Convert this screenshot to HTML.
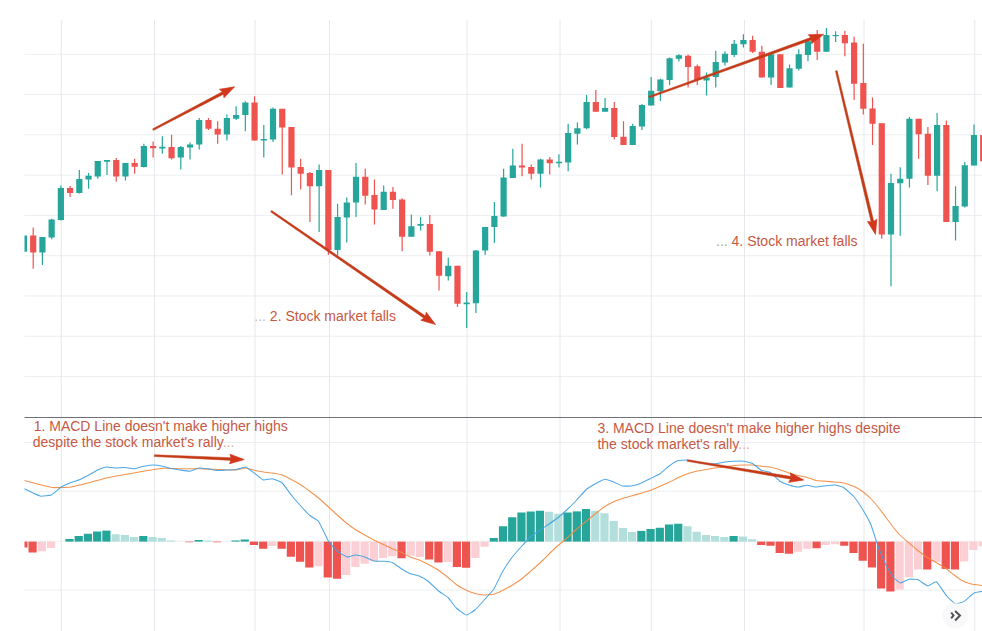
<!DOCTYPE html>
<html><head><meta charset="utf-8"><title>MACD divergence chart</title>
<style>html,body{margin:0;padding:0;background:#fff;}body{width:982px;height:631px;overflow:hidden;font-family:"Liberation Sans",sans-serif;}svg{display:block}</style>
</head><body>
<svg width="982" height="631" viewBox="0 0 982 631">
<rect width="982" height="631" fill="#fff"/>
<g stroke="#eceef1" stroke-width="1" fill="none">
<path d="M24.5 54.25H982"/>
<path d="M24.5 94.54H982"/>
<path d="M24.5 134.83H982"/>
<path d="M24.5 175.12H982"/>
<path d="M24.5 215.41H982"/>
<path d="M24.5 255.70H982"/>
<path d="M24.5 295.99H982"/>
<path d="M24.5 336.28H982"/>
<path d="M24.5 376.57H982"/>
<path d="M24.5 442.50H982"/>
<path d="M24.5 491.25H982"/>
<path d="M24.5 541.25H982"/>
<path d="M24.5 590.00H982"/>
</g><g stroke="#e6e8ec" stroke-width="1" fill="none">
<path d="M61.25 20V631"/>
<path d="M154.5 20V631"/>
<path d="M255 20V631"/>
<path d="M329.5 20V631"/>
<path d="M467 20V631"/>
<path d="M560 20V631"/>
<path d="M651.25 20V631"/>
<path d="M744.5 20V631"/>
<path d="M864 20V631"/>
<path d="M974.75 20V631"/>
</g>
<path d="M24.5 417.5H982" stroke="#5f6168" stroke-width="0.9"/>
<g>
<rect x="24.50" y="541.60" width="2.98" height="5.90" fill="#ef5350"/>
<rect x="28.50" y="541.60" width="8.20" height="10.90" fill="#ef5350"/>
<rect x="37.72" y="541.60" width="8.20" height="9.65" fill="#fbcfd3"/>
<rect x="46.95" y="541.60" width="8.20" height="6.40" fill="#fbcfd3"/>
<rect x="65.39" y="539.00" width="8.20" height="2.60" fill="#26a69a"/>
<rect x="74.62" y="536.00" width="8.20" height="5.60" fill="#26a69a"/>
<rect x="83.84" y="533.75" width="8.20" height="7.85" fill="#26a69a"/>
<rect x="93.06" y="531.50" width="8.20" height="10.10" fill="#26a69a"/>
<rect x="102.29" y="530.60" width="8.20" height="11.00" fill="#26a69a"/>
<rect x="111.51" y="534.25" width="8.20" height="7.35" fill="#b2dfdb"/>
<rect x="120.74" y="535.00" width="8.20" height="6.60" fill="#b2dfdb"/>
<rect x="129.96" y="537.00" width="8.20" height="4.60" fill="#b2dfdb"/>
<rect x="139.18" y="536.00" width="8.20" height="5.60" fill="#26a69a"/>
<rect x="148.41" y="537.00" width="8.20" height="4.60" fill="#b2dfdb"/>
<rect x="157.63" y="538.00" width="8.20" height="3.60" fill="#b2dfdb"/>
<rect x="166.85" y="540.60" width="8.20" height="1.00" fill="#b2dfdb"/>
<rect x="185.30" y="541.60" width="8.20" height="0.65" fill="#ef5350"/>
<rect x="194.52" y="540.00" width="8.20" height="1.60" fill="#26a69a"/>
<rect x="203.75" y="540.50" width="8.20" height="1.10" fill="#b2dfdb"/>
<rect x="212.97" y="541.60" width="8.20" height="0.65" fill="#ef5350"/>
<rect x="231.42" y="540.50" width="8.20" height="1.10" fill="#26a69a"/>
<rect x="240.64" y="539.50" width="8.20" height="2.10" fill="#26a69a"/>
<rect x="249.86" y="541.60" width="8.20" height="3.40" fill="#ef5350"/>
<rect x="259.09" y="541.60" width="8.20" height="7.15" fill="#ef5350"/>
<rect x="268.31" y="541.60" width="8.20" height="4.40" fill="#fbcfd3"/>
<rect x="277.53" y="541.60" width="8.20" height="7.15" fill="#ef5350"/>
<rect x="286.76" y="541.60" width="8.20" height="15.15" fill="#ef5350"/>
<rect x="295.98" y="541.60" width="8.20" height="20.15" fill="#ef5350"/>
<rect x="305.20" y="541.60" width="8.20" height="25.90" fill="#ef5350"/>
<rect x="314.43" y="541.60" width="8.20" height="24.65" fill="#fbcfd3"/>
<rect x="323.65" y="541.60" width="8.20" height="35.90" fill="#ef5350"/>
<rect x="332.88" y="541.60" width="8.20" height="37.15" fill="#ef5350"/>
<rect x="342.10" y="541.60" width="8.20" height="33.40" fill="#fbcfd3"/>
<rect x="351.32" y="541.60" width="8.20" height="25.40" fill="#fbcfd3"/>
<rect x="360.55" y="541.60" width="8.20" height="22.15" fill="#fbcfd3"/>
<rect x="369.77" y="541.60" width="8.20" height="19.65" fill="#fbcfd3"/>
<rect x="378.99" y="541.60" width="8.20" height="16.40" fill="#fbcfd3"/>
<rect x="388.22" y="541.60" width="8.20" height="14.65" fill="#fbcfd3"/>
<rect x="397.44" y="541.60" width="8.20" height="16.65" fill="#ef5350"/>
<rect x="406.66" y="541.60" width="8.20" height="14.15" fill="#fbcfd3"/>
<rect x="415.89" y="541.60" width="8.20" height="15.40" fill="#fbcfd3"/>
<rect x="425.11" y="541.60" width="8.20" height="17.90" fill="#ef5350"/>
<rect x="434.33" y="541.60" width="8.20" height="20.90" fill="#ef5350"/>
<rect x="443.56" y="541.60" width="8.20" height="20.40" fill="#fbcfd3"/>
<rect x="452.78" y="541.60" width="8.20" height="25.40" fill="#ef5350"/>
<rect x="462.00" y="541.60" width="8.20" height="26.15" fill="#ef5350"/>
<rect x="471.23" y="541.60" width="8.20" height="16.40" fill="#fbcfd3"/>
<rect x="480.45" y="541.60" width="8.20" height="5.15" fill="#fbcfd3"/>
<rect x="489.67" y="538.00" width="8.20" height="3.60" fill="#26a69a"/>
<rect x="498.90" y="526.25" width="8.20" height="15.35" fill="#26a69a"/>
<rect x="508.12" y="517.25" width="8.20" height="24.35" fill="#26a69a"/>
<rect x="517.35" y="512.50" width="8.20" height="29.10" fill="#26a69a"/>
<rect x="526.57" y="511.50" width="8.20" height="30.10" fill="#26a69a"/>
<rect x="535.79" y="510.75" width="8.20" height="30.85" fill="#26a69a"/>
<rect x="545.02" y="511.75" width="8.20" height="29.85" fill="#b2dfdb"/>
<rect x="554.24" y="513.75" width="8.20" height="27.85" fill="#b2dfdb"/>
<rect x="563.46" y="512.50" width="8.20" height="29.10" fill="#26a69a"/>
<rect x="572.69" y="511.40" width="8.20" height="30.20" fill="#26a69a"/>
<rect x="581.91" y="509.00" width="8.20" height="32.60" fill="#26a69a"/>
<rect x="591.13" y="510.75" width="8.20" height="30.85" fill="#b2dfdb"/>
<rect x="600.36" y="513.25" width="8.20" height="28.35" fill="#b2dfdb"/>
<rect x="609.58" y="520.90" width="8.20" height="20.70" fill="#b2dfdb"/>
<rect x="618.80" y="528.00" width="8.20" height="13.60" fill="#b2dfdb"/>
<rect x="628.03" y="532.00" width="8.20" height="9.60" fill="#b2dfdb"/>
<rect x="637.25" y="530.90" width="8.20" height="10.70" fill="#26a69a"/>
<rect x="646.47" y="529.00" width="8.20" height="12.60" fill="#26a69a"/>
<rect x="655.70" y="527.75" width="8.20" height="13.85" fill="#26a69a"/>
<rect x="664.92" y="524.50" width="8.20" height="17.10" fill="#26a69a"/>
<rect x="674.14" y="523.75" width="8.20" height="17.85" fill="#26a69a"/>
<rect x="683.37" y="526.25" width="8.20" height="15.35" fill="#b2dfdb"/>
<rect x="692.59" y="531.75" width="8.20" height="9.85" fill="#b2dfdb"/>
<rect x="701.82" y="535.00" width="8.20" height="6.60" fill="#b2dfdb"/>
<rect x="711.04" y="536.00" width="8.20" height="5.60" fill="#b2dfdb"/>
<rect x="720.26" y="537.00" width="8.20" height="4.60" fill="#b2dfdb"/>
<rect x="729.49" y="536.00" width="8.20" height="5.60" fill="#26a69a"/>
<rect x="738.71" y="536.50" width="8.20" height="5.10" fill="#b2dfdb"/>
<rect x="747.93" y="539.25" width="8.20" height="2.35" fill="#b2dfdb"/>
<rect x="757.16" y="541.60" width="8.20" height="3.40" fill="#ef5350"/>
<rect x="766.38" y="541.60" width="8.20" height="4.15" fill="#ef5350"/>
<rect x="775.60" y="541.60" width="8.20" height="11.40" fill="#ef5350"/>
<rect x="784.83" y="541.60" width="8.20" height="12.15" fill="#ef5350"/>
<rect x="794.05" y="541.60" width="8.20" height="10.15" fill="#fbcfd3"/>
<rect x="803.27" y="541.60" width="8.20" height="7.15" fill="#fbcfd3"/>
<rect x="812.50" y="541.60" width="8.20" height="6.65" fill="#ef5350"/>
<rect x="821.72" y="541.60" width="8.20" height="3.40" fill="#fbcfd3"/>
<rect x="830.94" y="541.60" width="8.20" height="2.65" fill="#fbcfd3"/>
<rect x="840.17" y="541.60" width="8.20" height="4.15" fill="#ef5350"/>
<rect x="849.39" y="541.60" width="8.20" height="11.40" fill="#ef5350"/>
<rect x="858.62" y="541.60" width="8.20" height="19.15" fill="#ef5350"/>
<rect x="867.84" y="541.60" width="8.20" height="25.90" fill="#ef5350"/>
<rect x="877.06" y="541.60" width="8.20" height="46.90" fill="#ef5350"/>
<rect x="886.29" y="541.60" width="8.20" height="49.90" fill="#ef5350"/>
<rect x="895.51" y="541.60" width="8.20" height="47.90" fill="#fbcfd3"/>
<rect x="904.73" y="541.60" width="8.20" height="35.65" fill="#fbcfd3"/>
<rect x="913.96" y="541.60" width="8.20" height="27.90" fill="#fbcfd3"/>
<rect x="923.18" y="541.60" width="8.20" height="27.90" fill="#ef5350"/>
<rect x="932.40" y="541.60" width="8.20" height="20.40" fill="#fbcfd3"/>
<rect x="941.63" y="541.60" width="8.20" height="27.30" fill="#ef5350"/>
<rect x="950.85" y="541.60" width="8.20" height="27.90" fill="#ef5350"/>
<rect x="960.07" y="541.60" width="8.20" height="19.90" fill="#fbcfd3"/>
<rect x="969.30" y="541.60" width="8.20" height="8.40" fill="#fbcfd3"/>
<rect x="978.52" y="541.60" width="8.20" height="4.65" fill="#fbcfd3"/>
</g>
<path d="M24.50 480.50C24.95 480.62 32.11 482.51 33.00 482.75C33.89 482.99 40.21 484.75 41.25 485.00C42.29 485.25 51.43 487.37 52.50 487.50C53.57 487.63 60.25 487.53 61.25 487.50C62.25 487.47 70.25 487.13 71.25 487.00C72.25 486.87 79.00 485.24 80.00 485.00C81.00 484.76 89.04 482.76 90.00 482.50C90.96 482.24 97.13 480.44 98.00 480.20C98.87 479.96 105.34 478.21 106.25 478.00C107.16 477.79 114.00 476.49 115.00 476.30C116.00 476.11 123.99 474.68 125.00 474.50C126.01 474.32 133.00 473.07 134.00 472.90C135.00 472.73 142.70 471.43 143.75 471.25C144.80 471.07 152.62 469.66 153.75 469.50C154.88 469.34 163.60 468.29 165.00 468.25C166.40 468.21 178.13 468.72 180.00 468.75C181.87 468.78 198.00 468.71 200.00 468.75C202.00 468.79 215.58 469.43 217.50 469.50C219.42 469.57 234.51 470.08 236.00 470.00C237.49 469.92 244.47 467.97 245.50 468.00C246.53 468.03 254.29 470.29 255.25 470.50C256.21 470.71 262.59 471.87 263.50 472.00C264.41 472.13 271.25 472.84 272.25 473.00C273.25 473.16 281.18 474.63 282.25 475.00C283.32 475.37 291.25 479.47 292.25 480.00C293.25 480.53 300.07 484.40 301.00 485.00C301.93 485.60 308.82 490.56 309.75 491.25C310.68 491.94 317.50 497.16 318.50 498.00C319.50 498.84 327.50 506.09 328.50 507.00C329.50 507.91 336.25 514.11 337.25 515.00C338.25 515.89 346.25 522.95 347.25 523.75C348.25 524.55 355.07 529.40 356.00 530.00C356.93 530.60 363.75 534.44 364.75 535.00C365.75 535.56 373.75 539.99 374.75 540.50C375.75 541.01 382.57 544.06 383.50 544.50C384.43 544.94 391.32 548.35 392.25 548.75C393.18 549.15 400.07 551.57 401.00 552.00C401.93 552.43 408.75 556.31 409.75 556.75C410.75 557.19 418.75 559.84 419.75 560.25C420.75 560.66 427.50 563.97 428.50 564.50C429.50 565.03 437.46 569.56 438.50 570.25C439.54 570.94 447.05 576.74 448.00 577.50C448.95 578.26 455.28 583.82 456.25 584.50C457.22 585.18 465.25 589.77 466.25 590.25C467.25 590.73 474.07 593.25 475.00 593.50C475.93 593.75 482.75 594.96 483.75 595.00C484.75 595.04 492.75 594.49 493.75 594.25C494.75 594.01 501.50 590.99 502.50 590.50C503.50 590.01 511.50 585.60 512.50 585.00C513.50 584.40 520.32 579.96 521.25 579.25C522.18 578.54 529.00 572.62 530.00 571.75C531.00 570.88 539.00 563.93 540.00 563.00C541.00 562.07 547.82 555.16 548.75 554.25C549.68 553.34 556.50 546.89 557.50 546.00C558.50 545.11 566.50 538.38 567.50 537.50C568.50 536.62 575.25 530.37 576.25 529.50C577.25 528.63 585.25 522.08 586.25 521.25C587.25 520.42 594.00 514.79 595.00 514.00C596.00 513.21 604.00 507.15 605.00 506.50C606.00 505.85 612.82 502.18 613.75 501.75C614.68 501.32 621.57 498.81 622.50 498.50C623.43 498.19 630.26 496.28 631.25 496.00C632.24 495.72 640.00 493.54 641.00 493.25C642.00 492.96 648.99 490.87 650.00 490.50C651.01 490.13 659.00 486.68 660.00 486.25C661.00 485.82 667.82 482.94 668.75 482.50C669.68 482.06 676.50 478.47 677.50 478.00C678.50 477.53 686.50 474.11 687.50 473.75C688.50 473.39 695.25 471.48 696.25 471.25C697.25 471.02 705.25 469.67 706.25 469.50C707.25 469.33 714.00 468.13 715.00 468.00C716.00 467.87 724.00 467.13 725.00 467.00C726.00 466.87 732.75 465.61 733.75 465.50C734.75 465.39 742.75 465.03 743.75 465.00C744.75 464.97 751.57 464.93 752.50 465.00C753.43 465.07 760.32 466.14 761.25 466.25C762.18 466.36 769.00 466.81 770.00 467.00C771.00 467.19 778.99 469.43 780.00 469.75C781.01 470.07 788.04 472.69 789.00 473.00C789.96 473.31 797.04 475.26 798.00 475.50C798.96 475.74 806.04 477.23 807.00 477.50C807.96 477.77 814.99 480.30 816.00 480.50C817.01 480.70 825.00 481.17 826.00 481.25C827.00 481.33 833.82 481.91 834.75 482.00C835.68 482.09 842.50 482.77 843.50 483.00C844.50 483.23 852.50 485.81 853.50 486.25C854.50 486.69 861.32 490.58 862.25 491.25C863.18 491.92 870.13 497.88 871.00 498.75C871.87 499.62 877.70 506.50 878.50 507.50C879.30 508.50 885.20 516.43 886.00 517.50C886.80 518.57 892.77 526.57 893.50 527.50C894.23 528.43 898.95 534.20 899.75 535.00C900.55 535.80 907.57 541.70 908.50 542.50C909.43 543.30 916.25 549.20 917.25 550.00C918.25 550.80 926.25 556.83 927.25 557.50C928.25 558.17 935.07 561.97 936.00 562.50C936.93 563.03 943.82 566.86 944.75 567.50C945.68 568.14 952.57 573.79 953.50 574.50C954.43 575.21 961.29 580.25 962.25 580.75C963.21 581.25 970.45 583.65 971.50 583.90C972.55 584.15 981.44 585.41 982.00 585.50" stroke="#f28a3f" stroke-width="1.05" stroke-opacity="0.92" fill="none" stroke-linejoin="round"/>
<path d="M24.50 488.75C24.95 488.98 32.11 492.60 33.00 493.00C33.89 493.40 40.28 496.14 41.25 496.25C42.22 496.36 50.18 495.49 51.25 495.00C52.32 494.51 60.25 487.64 61.25 487.00C62.25 486.36 69.00 483.40 70.00 483.00C71.00 482.60 79.00 479.93 80.00 479.50C81.00 479.07 87.75 475.53 88.75 475.00C89.75 474.47 97.82 469.93 98.75 469.50C99.68 469.07 105.38 467.08 106.25 467.00C107.12 466.92 114.00 467.97 115.00 468.00C116.00 468.03 124.00 467.46 125.00 467.50C126.00 467.54 132.75 468.82 133.75 468.75C134.75 468.68 142.68 466.45 143.75 466.25C144.82 466.05 152.75 465.00 153.75 465.00C154.75 465.00 161.50 466.05 162.50 466.25C163.50 466.45 171.57 468.55 172.50 468.75C173.43 468.95 179.07 469.87 180.00 470.00C180.93 470.13 189.00 471.36 190.00 471.25C191.00 471.14 197.82 468.13 198.75 468.00C199.68 467.87 206.50 468.62 207.50 468.75C208.50 468.88 216.50 470.43 217.50 470.50C218.50 470.57 225.26 470.05 226.25 470.00C227.24 469.95 234.97 469.66 236.00 469.50C237.03 469.34 244.47 466.77 245.50 467.00C246.53 467.23 254.29 473.06 255.25 473.75C256.21 474.44 262.59 479.73 263.50 480.00C264.41 480.27 271.25 478.59 272.25 478.75C273.25 478.91 281.18 482.07 282.25 483.00C283.32 483.93 291.25 495.01 292.25 496.25C293.25 497.49 300.07 505.22 301.00 506.25C301.93 507.28 308.82 514.70 309.75 515.50C310.68 516.30 317.50 519.88 318.50 521.25C319.50 522.62 327.50 539.65 328.50 541.25C329.50 542.85 336.25 550.41 337.25 551.25C338.25 552.09 346.25 556.80 347.25 557.00C348.25 557.20 355.07 555.00 356.00 555.00C356.93 555.00 363.75 556.67 364.75 557.00C365.75 557.33 373.75 561.02 374.75 561.25C375.75 561.48 382.57 561.18 383.50 561.25C384.43 561.32 391.32 562.11 392.25 562.50C393.18 562.89 400.07 567.91 401.00 568.50C401.93 569.09 408.75 573.09 409.75 573.50C410.75 573.91 418.75 575.82 419.75 576.25C420.75 576.68 427.50 580.71 428.50 581.50C429.50 582.29 437.46 590.15 438.50 591.00C439.54 591.85 447.05 596.59 448.00 597.50C448.95 598.41 455.28 607.07 456.25 608.00C457.22 608.93 465.25 614.89 466.25 615.00C467.25 615.11 474.07 610.77 475.00 610.00C475.93 609.23 482.75 601.61 483.75 600.50C484.75 599.39 492.75 590.78 493.75 589.25C494.75 587.72 501.50 573.48 502.50 571.75C503.50 570.02 511.50 558.08 512.50 556.75C513.50 555.42 520.32 547.78 521.25 546.75C522.18 545.72 529.00 538.39 530.00 537.50C531.00 536.61 539.00 530.71 540.00 530.00C541.00 529.29 547.82 524.89 548.75 524.25C549.68 523.61 556.50 518.80 557.50 518.00C558.50 517.20 566.50 510.18 567.50 509.25C568.50 508.32 575.25 501.55 576.25 500.50C577.25 499.45 585.25 490.38 586.25 489.50C587.25 488.62 594.00 484.55 595.00 484.00C596.00 483.45 604.00 479.36 605.00 479.25C606.00 479.14 612.82 481.64 613.75 482.00C614.68 482.36 621.57 485.79 622.50 486.00C623.43 486.21 630.26 486.15 631.25 486.00C632.24 485.85 640.00 483.64 641.00 483.25C642.00 482.86 648.99 479.26 650.00 478.75C651.01 478.24 659.00 474.42 660.00 473.75C661.00 473.08 667.82 466.94 668.75 466.25C669.68 465.56 676.50 461.08 677.50 460.75C678.50 460.42 686.50 459.93 687.50 460.00C688.50 460.07 695.25 461.80 696.25 462.00C697.25 462.20 705.25 463.66 706.25 463.75C707.25 463.84 714.00 463.84 715.00 463.75C716.00 463.66 724.00 462.13 725.00 462.00C726.00 461.87 732.75 461.29 733.75 461.25C734.75 461.21 742.75 461.13 743.75 461.25C744.75 461.37 751.57 463.02 752.50 463.50C753.43 463.98 760.29 469.77 761.25 470.25C762.21 470.73 769.50 471.91 770.50 472.50C771.50 473.09 779.01 480.58 780.00 481.25C780.99 481.92 788.04 484.69 789.00 485.00C789.96 485.31 797.04 486.99 798.00 487.00C798.96 487.01 806.04 485.25 807.00 485.25C807.96 485.25 814.99 486.97 816.00 487.00C817.01 487.03 825.00 485.86 826.00 485.75C827.00 485.64 833.82 484.91 834.75 485.00C835.68 485.09 842.50 486.90 843.50 487.50C844.50 488.10 852.50 495.12 853.50 496.25C854.50 497.38 861.32 507.22 862.25 508.75C863.18 510.28 870.13 522.93 871.00 525.00C871.87 527.07 877.70 545.37 878.50 547.50C879.30 549.63 885.20 563.40 886.00 565.00C886.80 566.60 892.73 576.54 893.50 577.50C894.27 578.46 899.67 582.91 900.50 583.00C901.33 583.09 908.08 579.44 909.00 579.25C909.92 579.06 916.75 579.14 917.75 579.50C918.75 579.86 926.75 585.88 927.75 586.00C928.75 586.12 935.50 581.23 936.50 581.75C937.50 582.27 945.50 594.56 946.50 595.75C947.50 596.94 954.32 603.70 955.25 604.00C956.18 604.30 963.00 601.99 964.00 601.40C965.00 600.81 973.04 593.53 974.00 593.00C974.96 592.47 981.57 591.49 982.00 591.40" stroke="#3f9fe4" stroke-width="1.05" stroke-opacity="0.92" fill="none" stroke-linejoin="round"/>
<g>
<rect x="24.50" y="235.50" width="2.58" height="16.25" fill="#26a69a"/>
<rect x="32.60" y="227.50" width="1.2" height="41.25" fill="#ef5350"/>
<rect x="30.10" y="235.50" width="6.20" height="17.00" fill="#ef5350"/>
<rect x="41.82" y="237.00" width="1.2" height="28.00" fill="#26a69a"/>
<rect x="39.32" y="237.00" width="6.20" height="15.50" fill="#26a69a"/>
<rect x="51.05" y="218.75" width="1.2" height="20.50" fill="#26a69a"/>
<rect x="48.55" y="219.50" width="6.20" height="18.00" fill="#26a69a"/>
<rect x="60.27" y="185.50" width="1.2" height="35.00" fill="#26a69a"/>
<rect x="57.77" y="188.00" width="6.20" height="32.00" fill="#26a69a"/>
<rect x="69.49" y="186.00" width="1.2" height="11.00" fill="#ef5350"/>
<rect x="66.99" y="188.00" width="6.20" height="5.00" fill="#ef5350"/>
<rect x="78.72" y="170.00" width="1.2" height="23.50" fill="#26a69a"/>
<rect x="76.22" y="179.00" width="6.20" height="14.00" fill="#26a69a"/>
<rect x="87.94" y="173.00" width="1.2" height="15.75" fill="#26a69a"/>
<rect x="85.44" y="175.75" width="6.20" height="3.75" fill="#26a69a"/>
<rect x="97.16" y="161.00" width="1.2" height="17.75" fill="#26a69a"/>
<rect x="94.66" y="161.00" width="6.20" height="15.50" fill="#26a69a"/>
<rect x="106.39" y="160.00" width="1.2" height="15.00" fill="#26a69a"/>
<rect x="103.89" y="160.00" width="6.20" height="1.75" fill="#26a69a"/>
<rect x="115.61" y="158.00" width="1.2" height="23.75" fill="#ef5350"/>
<rect x="113.11" y="160.00" width="6.20" height="16.50" fill="#ef5350"/>
<rect x="124.84" y="163.00" width="1.2" height="17.50" fill="#26a69a"/>
<rect x="122.34" y="163.00" width="6.20" height="13.50" fill="#26a69a"/>
<rect x="134.06" y="158.75" width="1.2" height="15.00" fill="#ef5350"/>
<rect x="131.56" y="163.00" width="6.20" height="3.75" fill="#ef5350"/>
<rect x="143.28" y="143.75" width="1.2" height="23.75" fill="#26a69a"/>
<rect x="140.78" y="146.00" width="6.20" height="21.00" fill="#26a69a"/>
<rect x="152.51" y="141.50" width="1.2" height="16.00" fill="#ef5350"/>
<rect x="150.01" y="146.00" width="6.20" height="2.25" fill="#ef5350"/>
<rect x="161.73" y="136.25" width="1.2" height="17.50" fill="#26a69a"/>
<rect x="159.23" y="146.75" width="6.20" height="1.75" fill="#26a69a"/>
<rect x="170.95" y="134.75" width="1.2" height="24.75" fill="#ef5350"/>
<rect x="168.45" y="147.00" width="6.20" height="11.25" fill="#ef5350"/>
<rect x="180.18" y="146.00" width="1.2" height="23.50" fill="#26a69a"/>
<rect x="177.68" y="147.00" width="6.20" height="10.50" fill="#26a69a"/>
<rect x="189.40" y="142.50" width="1.2" height="17.00" fill="#26a69a"/>
<rect x="186.90" y="144.50" width="6.20" height="3.00" fill="#26a69a"/>
<rect x="198.62" y="118.00" width="1.2" height="31.50" fill="#26a69a"/>
<rect x="196.12" y="120.00" width="6.20" height="24.50" fill="#26a69a"/>
<rect x="207.85" y="118.00" width="1.2" height="12.00" fill="#ef5350"/>
<rect x="205.35" y="120.00" width="6.20" height="8.75" fill="#ef5350"/>
<rect x="217.07" y="121.25" width="1.2" height="22.50" fill="#ef5350"/>
<rect x="214.57" y="128.75" width="6.20" height="5.75" fill="#ef5350"/>
<rect x="226.29" y="114.50" width="1.2" height="26.00" fill="#26a69a"/>
<rect x="223.79" y="118.00" width="6.20" height="16.50" fill="#26a69a"/>
<rect x="235.52" y="106.25" width="1.2" height="13.75" fill="#26a69a"/>
<rect x="233.02" y="115.00" width="6.20" height="3.75" fill="#26a69a"/>
<rect x="244.74" y="101.25" width="1.2" height="30.00" fill="#26a69a"/>
<rect x="242.24" y="102.50" width="6.20" height="12.50" fill="#26a69a"/>
<rect x="253.96" y="96.25" width="1.2" height="44.25" fill="#ef5350"/>
<rect x="251.46" y="102.50" width="6.20" height="38.00" fill="#ef5350"/>
<rect x="263.19" y="125.00" width="1.2" height="32.50" fill="#26a69a"/>
<rect x="260.69" y="139.00" width="6.20" height="1.50" fill="#26a69a"/>
<rect x="272.41" y="107.50" width="1.2" height="34.50" fill="#26a69a"/>
<rect x="269.91" y="108.75" width="6.20" height="30.75" fill="#26a69a"/>
<rect x="281.63" y="108.75" width="1.2" height="65.75" fill="#ef5350"/>
<rect x="279.13" y="108.75" width="6.20" height="18.75" fill="#ef5350"/>
<rect x="290.86" y="127.00" width="1.2" height="68.25" fill="#ef5350"/>
<rect x="288.36" y="127.00" width="6.20" height="40.50" fill="#ef5350"/>
<rect x="300.08" y="158.75" width="1.2" height="30.75" fill="#ef5350"/>
<rect x="297.58" y="167.00" width="6.20" height="6.75" fill="#ef5350"/>
<rect x="309.31" y="172.00" width="1.2" height="50.00" fill="#ef5350"/>
<rect x="306.81" y="173.00" width="6.20" height="13.25" fill="#ef5350"/>
<rect x="318.53" y="164.50" width="1.2" height="67.50" fill="#26a69a"/>
<rect x="316.03" y="170.00" width="6.20" height="16.25" fill="#26a69a"/>
<rect x="327.75" y="170.00" width="1.2" height="85.00" fill="#ef5350"/>
<rect x="325.25" y="170.00" width="6.20" height="80.00" fill="#ef5350"/>
<rect x="336.98" y="203.75" width="1.2" height="51.75" fill="#26a69a"/>
<rect x="334.48" y="217.00" width="6.20" height="33.00" fill="#26a69a"/>
<rect x="346.20" y="197.50" width="1.2" height="45.00" fill="#26a69a"/>
<rect x="343.70" y="202.50" width="6.20" height="15.00" fill="#26a69a"/>
<rect x="355.42" y="163.00" width="1.2" height="54.00" fill="#26a69a"/>
<rect x="352.92" y="176.75" width="6.20" height="25.75" fill="#26a69a"/>
<rect x="364.65" y="168.75" width="1.2" height="35.75" fill="#ef5350"/>
<rect x="362.15" y="176.75" width="6.20" height="19.00" fill="#ef5350"/>
<rect x="373.87" y="179.50" width="1.2" height="45.00" fill="#ef5350"/>
<rect x="371.37" y="195.00" width="6.20" height="14.50" fill="#ef5350"/>
<rect x="383.09" y="185.50" width="1.2" height="24.50" fill="#26a69a"/>
<rect x="380.59" y="191.75" width="6.20" height="18.25" fill="#26a69a"/>
<rect x="392.32" y="187.00" width="1.2" height="21.75" fill="#ef5350"/>
<rect x="389.82" y="191.75" width="6.20" height="8.25" fill="#ef5350"/>
<rect x="401.54" y="198.25" width="1.2" height="53.00" fill="#ef5350"/>
<rect x="399.04" y="199.50" width="6.20" height="37.25" fill="#ef5350"/>
<rect x="410.76" y="214.50" width="1.2" height="22.25" fill="#26a69a"/>
<rect x="408.26" y="226.25" width="6.20" height="10.50" fill="#26a69a"/>
<rect x="419.99" y="217.00" width="1.2" height="13.50" fill="#26a69a"/>
<rect x="417.49" y="224.00" width="6.20" height="1.75" fill="#26a69a"/>
<rect x="429.21" y="215.00" width="1.2" height="40.50" fill="#ef5350"/>
<rect x="426.71" y="224.00" width="6.20" height="27.75" fill="#ef5350"/>
<rect x="438.43" y="251.25" width="1.2" height="39.25" fill="#ef5350"/>
<rect x="435.93" y="251.25" width="6.20" height="24.50" fill="#ef5350"/>
<rect x="447.66" y="257.50" width="1.2" height="23.00" fill="#26a69a"/>
<rect x="445.16" y="265.75" width="6.20" height="10.50" fill="#26a69a"/>
<rect x="456.88" y="265.75" width="1.2" height="41.25" fill="#ef5350"/>
<rect x="454.38" y="265.75" width="6.20" height="38.00" fill="#ef5350"/>
<rect x="466.10" y="292.00" width="1.2" height="36.00" fill="#26a69a"/>
<rect x="463.60" y="302.50" width="6.20" height="1.75" fill="#26a69a"/>
<rect x="475.33" y="250.00" width="1.2" height="63.00" fill="#26a69a"/>
<rect x="472.83" y="250.50" width="6.20" height="52.75" fill="#26a69a"/>
<rect x="484.55" y="227.00" width="1.2" height="28.00" fill="#26a69a"/>
<rect x="482.05" y="227.00" width="6.20" height="23.50" fill="#26a69a"/>
<rect x="493.77" y="202.00" width="1.2" height="41.00" fill="#26a69a"/>
<rect x="491.27" y="216.00" width="6.20" height="11.00" fill="#26a69a"/>
<rect x="503.00" y="168.75" width="1.2" height="48.00" fill="#26a69a"/>
<rect x="500.50" y="177.50" width="6.20" height="39.00" fill="#26a69a"/>
<rect x="512.22" y="148.75" width="1.2" height="29.25" fill="#26a69a"/>
<rect x="509.72" y="165.50" width="6.20" height="12.50" fill="#26a69a"/>
<rect x="521.45" y="143.75" width="1.2" height="32.50" fill="#ef5350"/>
<rect x="518.95" y="165.50" width="6.20" height="2.00" fill="#ef5350"/>
<rect x="530.67" y="164.50" width="1.2" height="15.00" fill="#ef5350"/>
<rect x="528.17" y="167.00" width="6.20" height="6.75" fill="#ef5350"/>
<rect x="539.89" y="158.75" width="1.2" height="28.75" fill="#26a69a"/>
<rect x="537.39" y="159.50" width="6.20" height="14.25" fill="#26a69a"/>
<rect x="549.12" y="157.00" width="1.2" height="17.50" fill="#ef5350"/>
<rect x="546.62" y="159.50" width="6.20" height="3.75" fill="#ef5350"/>
<rect x="558.34" y="154.25" width="1.2" height="13.25" fill="#26a69a"/>
<rect x="555.84" y="161.75" width="6.20" height="1.50" fill="#26a69a"/>
<rect x="567.56" y="123.75" width="1.2" height="47.50" fill="#26a69a"/>
<rect x="565.06" y="133.00" width="6.20" height="29.50" fill="#26a69a"/>
<rect x="576.79" y="122.50" width="1.2" height="22.00" fill="#26a69a"/>
<rect x="574.29" y="128.25" width="6.20" height="5.50" fill="#26a69a"/>
<rect x="586.01" y="95.00" width="1.2" height="34.25" fill="#26a69a"/>
<rect x="583.51" y="102.00" width="6.20" height="26.25" fill="#26a69a"/>
<rect x="595.23" y="90.00" width="1.2" height="21.75" fill="#ef5350"/>
<rect x="592.73" y="102.00" width="6.20" height="9.75" fill="#ef5350"/>
<rect x="604.46" y="98.00" width="1.2" height="13.75" fill="#26a69a"/>
<rect x="601.96" y="108.00" width="6.20" height="3.75" fill="#26a69a"/>
<rect x="613.68" y="102.00" width="1.2" height="37.50" fill="#ef5350"/>
<rect x="611.18" y="108.00" width="6.20" height="29.00" fill="#ef5350"/>
<rect x="622.90" y="121.25" width="1.2" height="23.75" fill="#ef5350"/>
<rect x="620.40" y="136.75" width="6.20" height="8.25" fill="#ef5350"/>
<rect x="632.13" y="123.75" width="1.2" height="21.25" fill="#26a69a"/>
<rect x="629.63" y="126.00" width="6.20" height="19.00" fill="#26a69a"/>
<rect x="641.35" y="104.00" width="1.2" height="26.00" fill="#26a69a"/>
<rect x="638.85" y="105.00" width="6.20" height="21.50" fill="#26a69a"/>
<rect x="650.57" y="77.00" width="1.2" height="28.50" fill="#26a69a"/>
<rect x="648.07" y="90.75" width="6.20" height="14.75" fill="#26a69a"/>
<rect x="659.80" y="78.75" width="1.2" height="22.25" fill="#26a69a"/>
<rect x="657.30" y="79.50" width="6.20" height="11.75" fill="#26a69a"/>
<rect x="669.02" y="57.50" width="1.2" height="27.50" fill="#26a69a"/>
<rect x="666.52" y="58.25" width="6.20" height="21.75" fill="#26a69a"/>
<rect x="678.25" y="54.20" width="1.2" height="7.30" fill="#26a69a"/>
<rect x="675.75" y="55.20" width="6.20" height="3.60" fill="#26a69a"/>
<rect x="687.47" y="54.50" width="1.2" height="33.00" fill="#ef5350"/>
<rect x="684.97" y="55.75" width="6.20" height="11.25" fill="#ef5350"/>
<rect x="696.69" y="64.50" width="1.2" height="20.50" fill="#ef5350"/>
<rect x="694.19" y="66.25" width="6.20" height="13.75" fill="#ef5350"/>
<rect x="705.92" y="72.50" width="1.2" height="23.00" fill="#26a69a"/>
<rect x="703.42" y="77.50" width="6.20" height="3.00" fill="#26a69a"/>
<rect x="715.14" y="50.75" width="1.2" height="36.75" fill="#26a69a"/>
<rect x="712.64" y="62.00" width="6.20" height="15.00" fill="#26a69a"/>
<rect x="724.36" y="51.25" width="1.2" height="14.25" fill="#26a69a"/>
<rect x="721.86" y="53.75" width="6.20" height="8.75" fill="#26a69a"/>
<rect x="733.59" y="40.00" width="1.2" height="17.00" fill="#26a69a"/>
<rect x="731.09" y="43.75" width="6.20" height="11.25" fill="#26a69a"/>
<rect x="742.81" y="34.25" width="1.2" height="13.25" fill="#26a69a"/>
<rect x="740.31" y="40.00" width="6.20" height="4.25" fill="#26a69a"/>
<rect x="752.03" y="35.75" width="1.2" height="17.25" fill="#ef5350"/>
<rect x="749.53" y="40.00" width="6.20" height="11.75" fill="#ef5350"/>
<rect x="761.26" y="45.75" width="1.2" height="31.75" fill="#ef5350"/>
<rect x="758.76" y="51.75" width="6.20" height="25.75" fill="#ef5350"/>
<rect x="770.48" y="54.25" width="1.2" height="30.75" fill="#26a69a"/>
<rect x="767.98" y="54.25" width="6.20" height="23.25" fill="#26a69a"/>
<rect x="779.70" y="54.25" width="1.2" height="33.75" fill="#ef5350"/>
<rect x="777.20" y="54.25" width="6.20" height="33.75" fill="#ef5350"/>
<rect x="788.93" y="64.50" width="1.2" height="23.00" fill="#26a69a"/>
<rect x="786.43" y="68.25" width="6.20" height="19.25" fill="#26a69a"/>
<rect x="798.15" y="49.25" width="1.2" height="21.25" fill="#26a69a"/>
<rect x="795.65" y="54.25" width="6.20" height="14.50" fill="#26a69a"/>
<rect x="807.37" y="38.75" width="1.2" height="22.50" fill="#26a69a"/>
<rect x="804.87" y="41.25" width="6.20" height="13.75" fill="#26a69a"/>
<rect x="816.60" y="30.00" width="1.2" height="30.00" fill="#ef5350"/>
<rect x="814.10" y="35.00" width="6.20" height="16.75" fill="#ef5350"/>
<rect x="825.82" y="28.00" width="1.2" height="23.75" fill="#26a69a"/>
<rect x="823.32" y="35.00" width="6.20" height="16.75" fill="#26a69a"/>
<rect x="835.04" y="31.25" width="1.2" height="10.75" fill="#26a69a"/>
<rect x="832.54" y="35.00" width="6.20" height="1.20" fill="#26a69a"/>
<rect x="844.27" y="30.75" width="1.2" height="25.50" fill="#ef5350"/>
<rect x="841.77" y="35.00" width="6.20" height="8.25" fill="#ef5350"/>
<rect x="853.49" y="36.75" width="1.2" height="63.25" fill="#ef5350"/>
<rect x="850.99" y="42.50" width="6.20" height="41.25" fill="#ef5350"/>
<rect x="862.72" y="43.75" width="1.2" height="70.75" fill="#ef5350"/>
<rect x="860.22" y="83.00" width="6.20" height="25.75" fill="#ef5350"/>
<rect x="871.94" y="97.50" width="1.2" height="47.50" fill="#ef5350"/>
<rect x="869.44" y="108.50" width="6.20" height="15.25" fill="#ef5350"/>
<rect x="881.16" y="123.25" width="1.2" height="115.50" fill="#ef5350"/>
<rect x="878.66" y="123.25" width="6.20" height="111.25" fill="#ef5350"/>
<rect x="890.39" y="173.75" width="1.2" height="112.50" fill="#26a69a"/>
<rect x="887.89" y="183.00" width="6.20" height="51.50" fill="#26a69a"/>
<rect x="899.61" y="167.25" width="1.2" height="68.50" fill="#26a69a"/>
<rect x="897.11" y="178.75" width="6.20" height="4.50" fill="#26a69a"/>
<rect x="908.83" y="117.00" width="1.2" height="70.50" fill="#26a69a"/>
<rect x="906.33" y="118.75" width="6.20" height="60.00" fill="#26a69a"/>
<rect x="918.06" y="118.75" width="1.2" height="40.00" fill="#ef5350"/>
<rect x="915.56" y="118.75" width="6.20" height="15.50" fill="#ef5350"/>
<rect x="927.28" y="127.00" width="1.2" height="58.00" fill="#ef5350"/>
<rect x="924.78" y="133.75" width="6.20" height="42.00" fill="#ef5350"/>
<rect x="936.50" y="113.00" width="1.2" height="78.25" fill="#26a69a"/>
<rect x="934.00" y="125.00" width="6.20" height="50.75" fill="#26a69a"/>
<rect x="945.73" y="120.50" width="1.2" height="101.50" fill="#ef5350"/>
<rect x="943.23" y="125.00" width="6.20" height="97.00" fill="#ef5350"/>
<rect x="954.95" y="186.25" width="1.2" height="54.25" fill="#26a69a"/>
<rect x="952.45" y="206.00" width="6.20" height="16.00" fill="#26a69a"/>
<rect x="964.17" y="162.00" width="1.2" height="45.50" fill="#26a69a"/>
<rect x="961.67" y="165.25" width="6.20" height="41.25" fill="#26a69a"/>
<rect x="973.40" y="124.50" width="1.2" height="41.00" fill="#26a69a"/>
<rect x="970.90" y="135.00" width="6.20" height="30.50" fill="#26a69a"/>
<rect x="982.62" y="131.00" width="1.2" height="30.25" fill="#ef5350"/>
<rect x="980.12" y="135.00" width="6.20" height="26.25" fill="#ef5350"/>
</g>
<path d="M153.60 130.35 L223.99 93.91 L222.73 91.52 L152.80 128.85Z" fill="#c43a17" stroke="#c43a17" stroke-width="0.5" stroke-linejoin="round" stroke-linecap="round"/><path d="M223.36 92.71 L224.00 97.80 L234.60 86.80 L219.53 89.30Z" fill="#d2361b" stroke="#d2361b" stroke-width="0.7" stroke-linejoin="round"/>
<path d="M270.82 212.00 L424.28 318.40 L425.81 316.18 L271.78 210.60Z" fill="#c43a17" stroke="#c43a17" stroke-width="0.5" stroke-linejoin="round" stroke-linecap="round"/><path d="M425.04 317.29 L420.84 320.22 L435.50 324.50 L426.29 312.32Z" fill="#d2361b" stroke="#d2361b" stroke-width="0.7" stroke-linejoin="round"/>
<path d="M649.59 97.80 L812.11 39.87 L811.19 37.33 L649.01 96.20Z" fill="#c43a17" stroke="#c43a17" stroke-width="0.5" stroke-linejoin="round" stroke-linecap="round"/><path d="M811.65 38.60 L811.58 43.72 L823.60 34.30 L808.33 34.69Z" fill="#d2361b" stroke="#d2361b" stroke-width="0.7" stroke-linejoin="round"/>
<path d="M835.47 71.20 L871.23 222.46 L873.85 221.84 L837.13 70.80Z" fill="#c43a17" stroke="#c43a17" stroke-width="0.5" stroke-linejoin="round" stroke-linecap="round"/><path d="M872.54 222.15 L867.45 221.52 L875.50 234.50 L876.79 219.28Z" fill="#d2361b" stroke="#d2361b" stroke-width="0.7" stroke-linejoin="round"/>
<path d="M154.56 456.45 L231.45 460.38 L231.57 457.68 L154.64 454.75Z" fill="#c43a17" stroke="#c43a17" stroke-width="0.5" stroke-linejoin="round" stroke-linecap="round"/><path d="M231.51 459.03 L229.50 463.75 L244.20 459.60 L229.93 454.16Z" fill="#d2361b" stroke="#d2361b" stroke-width="0.7" stroke-linejoin="round"/>
<path d="M687.36 461.34 L791.05 479.23 L791.50 476.57 L687.64 459.66Z" fill="#c43a17" stroke="#c43a17" stroke-width="0.5" stroke-linejoin="round" stroke-linecap="round"/><path d="M791.27 477.90 L788.71 482.34 L803.80 480.00 L790.29 472.87Z" fill="#d2361b" stroke="#d2361b" stroke-width="0.7" stroke-linejoin="round"/>
<g style="font-family:'Liberation Sans',sans-serif;font-size:14px;fill:#c65943">
<text x="33.7" y="431.2">1. MACD Line doesn't make higher highs</text>
<text x="32.8" y="447">despite the stock market's rally<tspan fill="#e3a89b">...</tspan></text>
<text x="597.4" y="433.4">3. MACD Line doesn't make higher highs despite</text>
<text x="597.4" y="449.2">the stock market's rally<tspan fill="#e3a89b">...</tspan></text>
<text x="254.3" y="320.7"><tspan fill="#c2bebe">...</tspan> 2. Stock market falls</text>
<text x="716" y="245.5"><tspan fill="#a9a3a3">...</tspan> 4. Stock market falls</text>
</g>
<defs><radialGradient id="bg"><stop offset="0" stop-color="#f9f9fa" stop-opacity="0.95"/><stop offset="0.82" stop-color="#f8f8f9" stop-opacity="0.92"/><stop offset="1" stop-color="#f4f4f5" stop-opacity="0"/></radialGradient></defs>
<circle cx="955.4" cy="615.8" r="14" fill="url(#bg)"/>
<path d="M951.2 612.5l2.3 2.9l-2.3 3M955.1 611l4.9 4.5l-4.9 5" stroke="#505258" stroke-width="2" fill="none"/>
</svg>
</body></html>
